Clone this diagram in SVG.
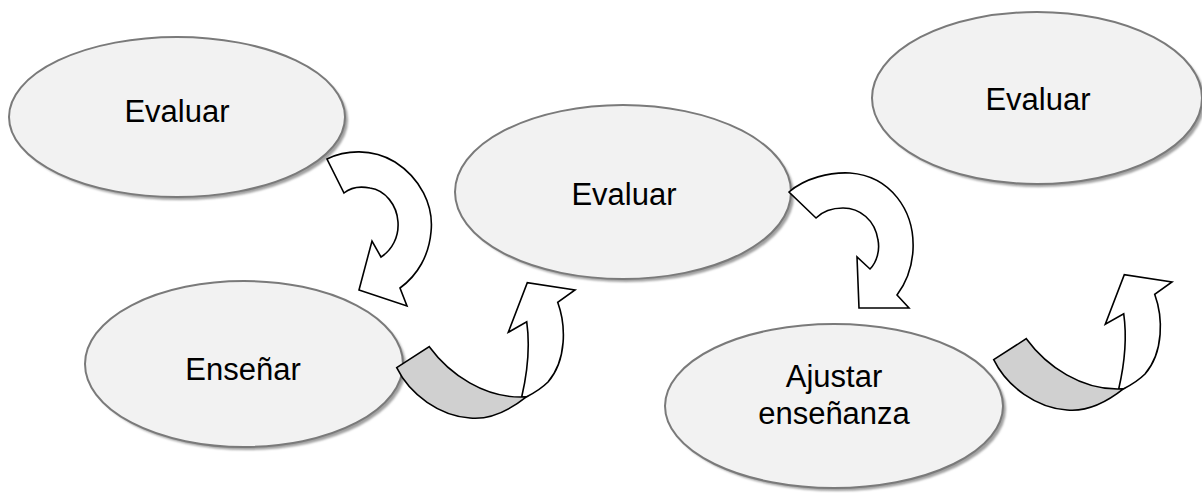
<svg xmlns="http://www.w3.org/2000/svg" width="1202" height="493" viewBox="0 0 1202 493">
<defs>
<filter id="sh" x="-10%" y="-10%" width="120%" height="120%"><feGaussianBlur stdDeviation="1.2"/></filter>
<style>
.shadow{fill:#a0a0a0;filter:url(#sh)}
.node{fill:#f2f2f2;stroke:#7a7a7a;stroke-width:2}
.lbl{font-family:"Liberation Sans",Arial,sans-serif;font-size:31px;fill:#000;text-anchor:middle}
.arr{fill:#fff;stroke:#000;stroke-width:1.6;stroke-linejoin:miter}
.band{fill:#d0d0d0;stroke:#000;stroke-width:1.6}
</style>
</defs>
<rect width="1202" height="493" fill="#fff"/>
<g id="n1">
<ellipse class="shadow" cx="180" cy="120" rx="168" ry="80"/>
<ellipse class="node" cx="177" cy="117" rx="168" ry="80"/>
<text class="lbl" x="177" y="122">Evaluar</text>
</g>
<g id="n2">
<ellipse class="shadow" cx="626" cy="195" rx="168" ry="87"/>
<ellipse class="node" cx="623" cy="192" rx="168" ry="87"/>
<text class="lbl" x="624" y="205">Evaluar</text>
</g>
<g id="n3">
<ellipse class="shadow" cx="247" cy="367" rx="159" ry="83"/>
<ellipse class="node" cx="244" cy="364" rx="159" ry="83"/>
<text class="lbl" x="243" y="380">Enseñar</text>
</g>
<g id="n4">
<ellipse class="shadow" cx="837" cy="409" rx="169" ry="82"/>
<ellipse class="node" cx="834" cy="406" rx="169" ry="82"/>
<text class="lbl" x="834" y="387">Ajustar</text>
<text class="lbl" x="834" y="424">enseñanza</text>
</g>
<g id="n5">
<ellipse class="shadow" cx="1040" cy="101" rx="165" ry="86"/>
<ellipse class="node" cx="1037" cy="98" rx="165" ry="86"/>
<text class="lbl" x="1038" y="110">Evaluar</text>
</g>
<g id="connectors">
<path class="arr" d="M327,159 C345,150 372,148 395,162 C420,178 434,205 431,232 C429,255 418,275 400,288 L407,306 L359,290 L372,241 L381,257 C392,250 399,237 398,222 C397,205 385,190 370,188 C360,186 350,188 344,193 Z"/>
<path class="arr" d="M789,192 C805,178 830,172 850,173 C890,176 915,210 913,250 C912,268 906,283 897,295 L909,308 L859,308 L857,257 L870,269 C877,262 880,250 878,240 C875,220 860,208 843,208 C833,208 823,211 816,218 Z"/>
<g id="up1">
<path class="arr" d="M521.7,397 C528,370 530,345 526.7,321.7 L508.3,332.3 L527.3,282.7 L575,290 L557.7,302.3 C566,325 567,360 548,382 C541,389 534,393 526.7,396.7 Z"/>
<path class="band" d="M396.7,367.7 L429.3,346.7 C450,375 485,398 523,397 L526.7,396.7 C510,410 490,420 470,418 C440,416 410,395 396.7,367.7 Z"/>
</g>
<g id="up2" transform="translate(597,-8)">
<path class="arr" d="M521.7,397 C528,370 530,345 526.7,321.7 L508.3,332.3 L527.3,282.7 L575,290 L557.7,302.3 C566,325 567,360 548,382 C541,389 534,393 526.7,396.7 Z"/>
<path class="band" d="M396.7,367.7 L429.3,346.7 C450,375 485,398 523,397 L526.7,396.7 C510,410 490,420 470,418 C440,416 410,395 396.7,367.7 Z"/>
</g>
</g>
</svg>
